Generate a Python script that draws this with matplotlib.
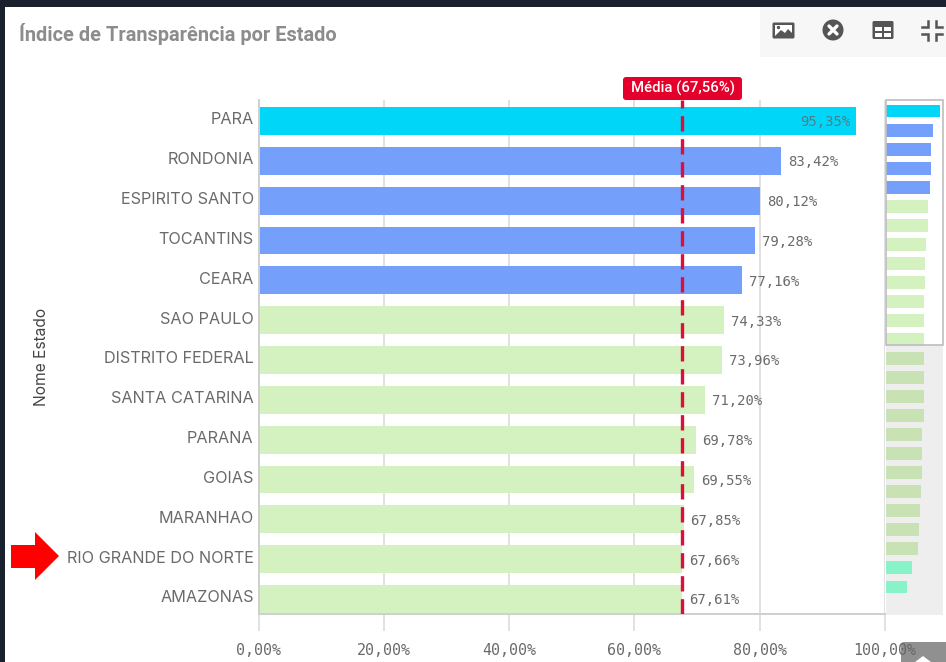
import matplotlib
matplotlib.use('Agg')
import matplotlib.pyplot as plt
from matplotlib.patches import Rectangle, FancyBboxPatch, Circle, Polygon
from matplotlib.transforms import ScaledTranslation

W, H = 946, 662

states = ['PARA', 'RONDONIA', 'ESPIRITO SANTO', 'TOCANTINS', 'CEARA', 'SAO PAULO',
          'DISTRITO FEDERAL', 'SANTA CATARINA', 'PARANA', 'GOIAS', 'MARANHAO',
          'RIO GRANDE DO NORTE', 'AMAZONAS']
values = [95.35, 83.42, 80.12, 79.28, 77.16, 74.33, 73.96, 71.20, 69.78, 69.55,
          67.85, 67.66, 67.61]
# bars below the scroll window, only visible in the minimap
rest_values = [67.7, 67.1, 66.6, 66.6, 64.1, 63.6, 63.1, 61.3, 60.6, 58.3, 57.1, 46.5, 37.1]
mean_value = 67.56
xticks = [0, 20, 40, 60, 80, 100]

CYAN = '#00d6f7'
BLUE = '#74a0fb'
GREEN = '#d4f2c0'
GREEN_DIM = '#c9e2b3'
TEAL = '#88f2c9'
RED = '#dc0f3c'
GRID = '#dcdcdc'
TEXT = '#6a6a6a'
MONO = 'DejaVu Sans Mono'


def bar_color(v):
    if v >= 90:
        return CYAN
    if v >= 75:
        return BLUE
    if v >= 50:
        return GREEN
    return TEAL


def br(v):
    return f'{v:.2f}'.replace('.', ',') + '%'


def px_axes(x0, y0, x1, y1):
    return fig.add_axes([x0 / W, 1 - y1 / H, (x1 - x0) / W, (y1 - y0) / H])


fig = plt.figure(figsize=(W / 100, H / 100), dpi=100, facecolor='white')

#%% main chart
ax = px_axes(258.5, 100, 885, 614)
ax.patch.set_alpha(0)
pos = list(range(len(states)))
ax.barh(pos, values, height=0.70, color=[bar_color(v) for v in values], zorder=2)
ax.set_xlim(0, 100)
ax.set_ylim(12.377, -0.527)
ax.set_yticks(pos)
ax.set_yticklabels(states, fontsize=11.7, color=TEXT, family='Inter')
ax.tick_params(axis='y', length=0, pad=3.5)
up = ScaledTranslation(0, 2.5 / 100, fig.dpi_scale_trans)
for lab in ax.get_yticklabels():
    lab.set_transform(lab.get_transform() + up)
ax.set_xticks(xticks)
ax.set_xticklabels([br(t) for t in xticks], fontsize=10.8, color=TEXT, family=MONO)
ax.tick_params(axis='x', length=12, width=1.2, color=GRID, pad=9)
ax.grid(axis='x', color=GRID, linewidth=1.2, zorder=1)
ax.set_axisbelow(True)
for s in ['top', 'right']:
    ax.spines[s].set_visible(False)
for s in ['left', 'bottom']:
    ax.spines[s].set_color('#cfcfcf')
    ax.spines[s].set_linewidth(1.4)

for i, v in enumerate(values):
    if i == 0:
        ax.annotate(br(v), (v, i), xytext=(-4, -1), textcoords='offset points', ha='right',
                    va='center', fontsize=10, color='#4c7f8c', family=MONO, zorder=5)
    else:
        ax.annotate(br(v), (v, i), xytext=(5, -1), textcoords='offset points', ha='left',
                    va='center', fontsize=10, color=TEXT, family=MONO, zorder=5)

ax.axvline(mean_value, color=RED, linewidth=2.4, linestyle=(0, (4.6, 2.3)), zorder=4)

fig.text(41 / W, 1 - 357 / H, 'Nome Estado', rotation=90, ha='center', va='center',
         fontsize=11.2, color='#444444', family='Inter')

#%% minimap
mini = px_axes(886, 100, 943, 615)
mini.set_facecolor('#eeeeee')
all_values = values + rest_values
n_win = len(values)
win_end = n_win - 0.7
mini.set_xlim(0, 100.7)
mini.set_ylim(25 + 1.47, -0.578)
mini.axhspan(-0.578, win_end, color='white', zorder=0, linewidth=0)
mini_colors = [bar_color(v) for v in all_values]
mini_colors = [GREEN_DIM if (i >= n_win and c == GREEN) else c for i, c in enumerate(mini_colors)]
mini.barh(range(len(all_values)), all_values, height=0.68, color=mini_colors, zorder=2)
mini.add_patch(Rectangle((0, -0.578), 100.7, win_end + 0.578, fill=False,
                         edgecolor='#bdbdbd', linewidth=1.2, zorder=3, clip_on=False))
mini.set_xticks([])
mini.set_yticks([])
for s in mini.spines.values():
    s.set_visible(False)

#%% page chrome on a pixel-coordinate overlay
top = fig.add_axes([0, 0, 1, 1], zorder=10)
top.set_xlim(0, W)
top.set_ylim(H, 0)
top.axis('off')

top.add_patch(Rectangle((0, 0), W, 7, color='#19202e', lw=0))
top.add_patch(Rectangle((0, 0), 5, H, color='#19202e', lw=0))
top.add_patch(Rectangle((760, 7), W - 760, 50, color='#f7f7f7', lw=0))

top.text(19, 34, 'Índice de Transparência por Estado', fontsize=14.4, fontweight='bold',
         color='#8c8c8c', family='Roboto', va='center', ha='left')

# mean label
top.add_patch(FancyBboxPatch((625, 79), 115, 19, boxstyle='round,pad=2,rounding_size=3',
                             facecolor='#e4002b', edgecolor='none'))
top.text(683, 88.5, 'Média (67,56%)', color='white', fontsize=10.7, fontweight='medium',
         family='Roboto', ha='center', va='center')

# red arrow next to RIO GRANDE DO NORTE
top.add_patch(Polygon([(11, 545), (35, 545), (35, 532), (59, 556), (35, 580), (35, 568), (11, 568)],
                      closed=True, facecolor='#ff0000', edgecolor='none'))

# toolbar icons
ICON = '#555555'
top.add_patch(FancyBboxPatch((773, 23), 21, 15, boxstyle='round,pad=0.5,rounding_size=1.5', fc=ICON, ec='none'))
top.add_patch(Rectangle((775, 25), 17, 11, fc='white', ec='none'))
top.add_patch(Polygon([(775, 36), (781, 30), (785, 33), (788, 29), (792, 33), (792, 36)], fc=ICON, ec='none'))
top.add_patch(Circle((778.5, 27.5), 1.7, fc=ICON, ec='none'))
top.add_patch(Circle((833, 30), 10.5, fc=ICON, ec='none'))
top.plot([829, 837], [26, 34], color='white', lw=2.4, solid_capstyle='round')
top.plot([829, 837], [34, 26], color='white', lw=2.4, solid_capstyle='round')
top.add_patch(FancyBboxPatch((873, 21.5), 20, 17, boxstyle='round,pad=0.5,rounding_size=1.5', fc=ICON, ec='none'))
top.add_patch(Rectangle((875, 27), 7, 4, fc='white', ec='none'))
top.add_patch(Rectangle((884, 27), 7, 4, fc='white', ec='none'))
top.add_patch(Rectangle((875, 32.5), 7, 4, fc='white', ec='none'))
top.add_patch(Rectangle((884, 32.5), 7, 4, fc='white', ec='none'))
for xs, ys in [([922, 928, 928], [27, 27, 21]), ([942, 936, 936], [27, 27, 21]),
               ([922, 928, 928], [34, 34, 40]), ([942, 936, 936], [34, 34, 40])]:
    top.plot(xs, ys, color=ICON, lw=1.8, solid_joinstyle='miter')

# scroll-to-top tab, bottom right
top.add_patch(FancyBboxPatch((901, 642), 50, 26, boxstyle='round,pad=0,rounding_size=3', fc='#666666', ec='none',
                             alpha=0.72))
top.add_patch(Polygon([(915, 662), (923, 656), (931, 662)], fc='white', ec='none'))

fig.savefig('out.png', dpi=100)
